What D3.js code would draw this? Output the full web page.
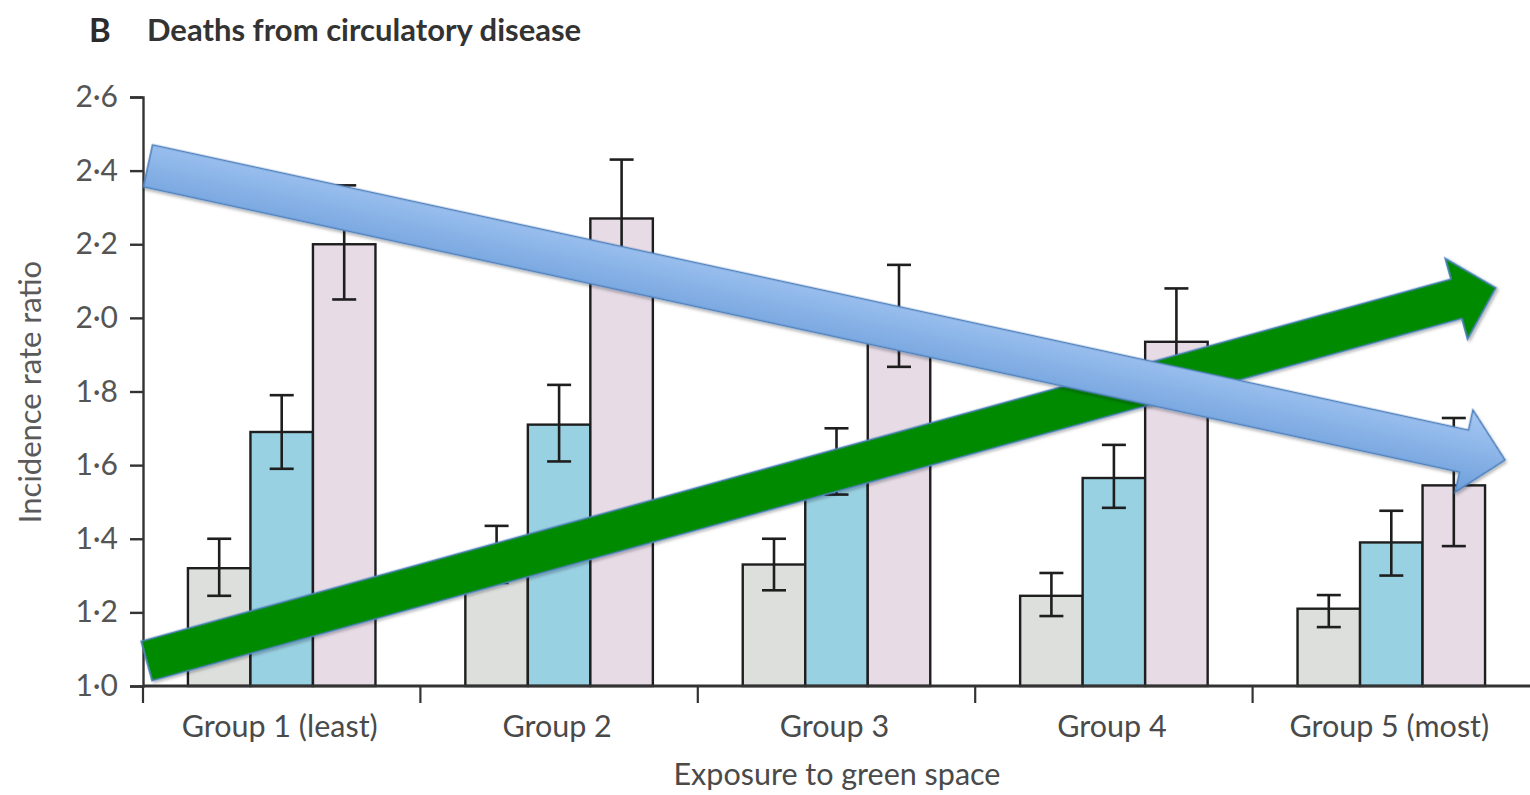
<!DOCTYPE html>
<html>
<head>
<meta charset="utf-8">
<script src="https://cdn.jsdelivr.net/npm/d3@7/dist/d3.min.js"></script>
<style>
  html, body { margin: 0; padding: 0; background: #ffffff; }
  svg { display: block; }
  text { font-family: Lato, "Open Sans", "DejaVu Sans", sans-serif; }
</style>
</head>
<body>
<svg id="chart" width="1530" height="795"></svg>
<script>
// Incidence rate ratios for deaths from circulatory disease, by green-space exposure group
const groups = ["Group 1 (least)", "Group 2", "Group 3", "Group 4", "Group 5 (most)"];
const seriesKeys = ["low", "mid", "high"];
const lowValues  = [1.32, 1.35, 1.33, 1.245, 1.21];
const midValues  = [1.69, 1.71, 1.61, 1.565, 1.39];
const highValues = [2.20, 2.27, 2.00, 1.935, 1.545];
const lowCI  = [[1.245, 1.40], [1.28, 1.435], [1.26, 1.40], [1.19, 1.307], [1.16, 1.247]];
const midCI  = [[1.59, 1.79], [1.61, 1.818], [1.52, 1.70], [1.484, 1.655], [1.30, 1.476]];
const highCI = [[2.05, 2.36], [2.12, 2.43], [1.867, 2.144], [1.80, 2.08], [1.38, 1.728]];
const yTicks = [1.0, 1.2, 1.4, 1.6, 1.8, 2.0, 2.2, 2.4, 2.6];

// Trend arrows drawn over the bars: position along the group axis (0..5) and ratio value
const trendArrows = [
  { id: "green", from: [0.013, 1.068], to: [4.877, 2.0815] },
  { id: "blue",  from: [0.018, 2.413], to: [4.910, 1.614] }
];

const values = [lowValues, midValues, highValues];
const cis = [lowCI, midCI, highCI];
const fills = { low: "#dcdfdb", mid: "#98d1e2", high: "#e7dbe6" };

const svg = d3.select("#chart");
const plotLeft = 143, plotRight = 1530, plotTop = 97, plotBottom = 686;

const x0 = d3.scaleBand().domain(groups).range([plotLeft, plotRight]).padding(0);
const x1 = d3.scaleBand().domain(seriesKeys).range([0, x0.bandwidth()])
  .paddingInner(0).paddingOuter(0.719);
const y = d3.scaleLinear().domain([1.0, 2.6]).range([plotBottom, plotTop]);
const xPos = d3.scaleLinear().domain([0, groups.length]).range([plotLeft, plotRight]);

const fmt = d => d3.format(".1f")(d).replace(".", "\u00B7");

// Title
svg.append("text").attr("x", 89).attr("y", 42)
  .attr("font-size", 33).attr("font-weight", 700).attr("fill", "#2b2b2b").text("B");
svg.append("text").attr("x", 147).attr("y", 41)
  .attr("font-size", 31).attr("font-weight", 700).attr("fill", "#333").text("Deaths from circulatory disease");

// Bars
const rows = groups.map((g, i) => seriesKeys.map((k, s) => ({
  group: g, key: k, value: values[s][i], lo: cis[s][i][0], hi: cis[s][i][1]
})));

const gGroups = svg.append("g").selectAll("g").data(rows).join("g")
  .attr("transform", (d, i) => `translate(${x0(groups[i])},0)`);

gGroups.selectAll("rect").data(d => d).join("rect")
  .attr("x", d => x1(d.key))
  .attr("y", d => y(d.value))
  .attr("width", x1.bandwidth())
  .attr("height", d => y(1.0) - y(d.value))
  .attr("fill", d => fills[d.key])
  .attr("stroke", "#1e1e1e")
  .attr("stroke-width", 2.4);

// Error bars
const capHalf = 12;
const eb = gGroups.selectAll("g.err").data(d => d).join("g").attr("class", "err")
  .attr("stroke", "#1e1e1e").attr("stroke-width", 2.6);
eb.append("line")
  .attr("x1", d => x1(d.key) + x1.bandwidth() / 2).attr("x2", d => x1(d.key) + x1.bandwidth() / 2)
  .attr("y1", d => y(d.lo)).attr("y2", d => y(d.hi));
eb.append("line")
  .attr("x1", d => x1(d.key) + x1.bandwidth() / 2 - capHalf).attr("x2", d => x1(d.key) + x1.bandwidth() / 2 + capHalf)
  .attr("y1", d => y(d.hi)).attr("y2", d => y(d.hi));
eb.append("line")
  .attr("x1", d => x1(d.key) + x1.bandwidth() / 2 - capHalf).attr("x2", d => x1(d.key) + x1.bandwidth() / 2 + capHalf)
  .attr("y1", d => y(d.lo)).attr("y2", d => y(d.lo));

// Y axis
const yAxis = d3.axisLeft(y).tickValues(yTicks).tickFormat(fmt).tickSize(13).tickPadding(12);
const gy = svg.append("g").attr("transform", `translate(${plotLeft},0)`).call(yAxis);
gy.select(".domain").attr("stroke", "#333").attr("stroke-width", 2.4);
gy.selectAll(".tick line").attr("stroke", "#333").attr("stroke-width", 2.4);
gy.selectAll(".tick text").attr("font-size", 30).attr("fill", "#555")
  .attr("font-family", "Lato, 'Open Sans', sans-serif");

// X axis: group boundaries marked with ticks, labels centred under each group
const gx = svg.append("g").attr("transform", `translate(0,${plotBottom})`);
gx.append("line").attr("x1", plotLeft).attr("x2", plotRight).attr("y1", 0).attr("y2", 0)
  .attr("stroke", "#333").attr("stroke-width", 2.8);
gx.selectAll("line.tick").data(d3.range(groups.length)).join("line").attr("class", "tick")
  .attr("x1", i => xPos(i)).attr("x2", i => xPos(i)).attr("y1", 0).attr("y2", 17)
  .attr("stroke", "#333").attr("stroke-width", 2.2);
gx.selectAll("text").data(groups).join("text")
  .attr("x", g => x0(g) + x0.bandwidth() / 2 - 2)
  .attr("y", 51)
  .attr("text-anchor", "middle")
  .attr("font-size", 30.5).attr("fill", "#4a4a4a").text(g => g);

svg.append("text").attr("x", 837).attr("y", 785).attr("text-anchor", "middle")
  .attr("font-size", 30.5).attr("fill", "#4a4a4a").text("Exposure to green space");

svg.append("text").attr("transform", "translate(41,392) rotate(-90)").attr("text-anchor", "middle")
  .attr("font-size", 31).attr("fill", "#5a5a5a").text("Incidence rate ratio");

// Trend arrows
const defs = svg.append("defs");
const shadow = defs.append("filter").attr("id", "arrowShadow")
  .attr("x", "-5%").attr("y", "-20%").attr("width", "110%").attr("height", "140%");
shadow.append("feDropShadow").attr("dx", 1.5).attr("dy", 2).attr("stdDeviation", 1.8)
  .attr("flood-color", "#000").attr("flood-opacity", 0.3);

const blueGrad = defs.append("linearGradient").attr("id", "blueFill")
  .attr("x1", 0).attr("y1", 0).attr("x2", 0).attr("y2", 1);
blueGrad.append("stop").attr("offset", "0%").attr("stop-color", "#a6c8f3");
blueGrad.append("stop").attr("offset", "100%").attr("stop-color", "#6d9edb");

const arrowStyle = {
  green: { fill: "#008a00", body: 41, headW: 84, headL: 41 },
  blue:  { fill: "url(#blueFill)", body: 43, headW: 84, headL: 42 }
};

trendArrows.forEach(a => {
  const st = arrowStyle[a.id];
  const ax = xPos(a.from[0]), ay = y(a.from[1]);
  const bx = xPos(a.to[0]), by = y(a.to[1]);
  const len = Math.hypot(bx - ax, by - ay);
  const ang = Math.atan2(by - ay, bx - ax) * 180 / Math.PI;
  const b = st.body / 2, h = st.headW / 2, hl = st.headL;
  const pts = [[0, -b], [len - hl, -b], [len - hl, -h], [len, 0], [len - hl, h], [len - hl, b], [0, b]];
  svg.append("g")
    .attr("transform", `translate(${ax},${ay}) rotate(${ang})`)
    .attr("filter", "url(#arrowShadow)")
    .append("polygon")
    .attr("points", pts.map(p => p.join(",")).join(" "))
    .attr("fill", st.fill)
    .attr("stroke", "#4f81bd")
    .attr("stroke-width", 1.6)
    .attr("stroke-linejoin", "miter");
});
</script>
</body>
</html>
